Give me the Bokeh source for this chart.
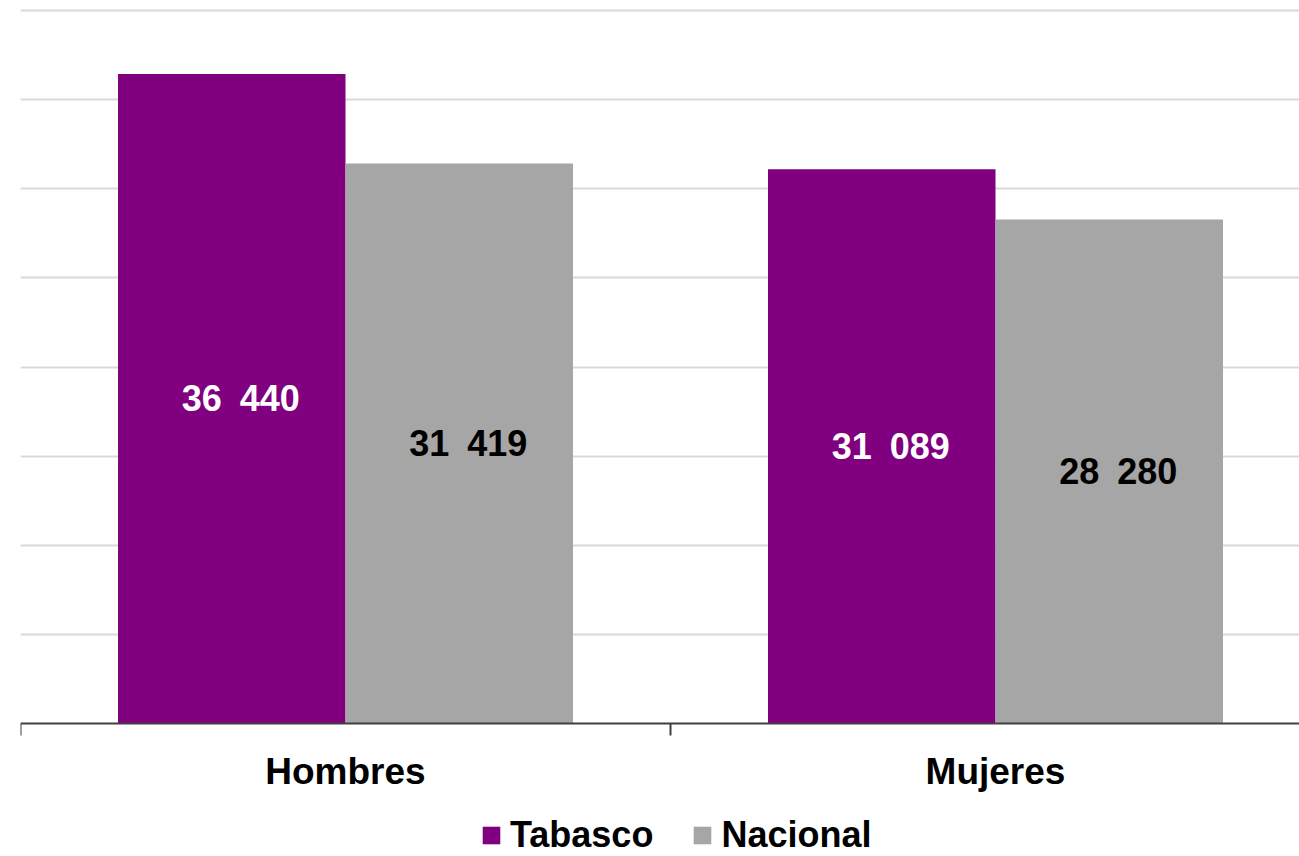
from bokeh.plotting import figure
from bokeh.models import (Range1d, FixedTicker, Grid, Legend,
                          LegendItem, ColumnDataSource, LinearAxis)
from bokeh.core.properties import value
from bokeh.embed import file_html
from bokeh.resources import INLINE

categories = ["Hombres", "Mujeres"]
series_names = ["Tabasco", "Nacional"]
tabasco = [36440, 31089]
nacional = [31419, 28280]
grid_values = [5000, 10000, 15000, 20000, 25000, 30000, 35000, 40000]
colors = ["#800080", "#A6A6A6"]
label_colors = ["white", "black"]

FONT = "Liberation Sans"
bar_w = 0.35
ymax = 40000
px_per_unit = 713 / ymax   # 40 000 spans 713 px

p = figure(width=1299, height=856, output_backend="svg", toolbar_location=None,
           x_range=Range1d(0, 1279 / 650),
           y_range=Range1d(-133 / px_per_unit, ymax + 10 / px_per_unit),
           x_axis_location=None, y_axis_location=None,
           min_border_left=20, min_border_right=0, min_border_top=0, min_border_bottom=0)
p.outline_line_color = None
p.background_fill_color = "white"
p.border_fill_color = "white"

for r in list(p.center):
    if isinstance(r, Grid):
        p.center.remove(r)

grid = Grid(dimension=1, ticker=FixedTicker(ticks=grid_values),
            grid_line_color="#D9D9D9", grid_line_width=2)
p.add_layout(grid)

centers = [i + 0.5 for i in range(len(categories))]
renderers = []
for k, (vals, col, lcol) in enumerate(zip([tabasco, nacional], colors, label_colors)):
    offset = (k - 0.5) * bar_w
    xs = [c + offset for c in centers]
    src = ColumnDataSource(dict(x=xs, top=vals, mid=[v / 2 for v in vals],
                                txt=[f"{v:,}".replace(",", "\u2002") for v in vals]))
    r = p.vbar(x="x", top="top", bottom=0, width=bar_w, source=src,
               fill_color=col, line_color=None)
    renderers.append(r)
    p.text(x="x", y="mid", text="txt", source=src, text_align="center",
           text_baseline="middle", text_color=lcol, text_font=value(FONT),
           text_font_style="bold", text_font_size="36px", x_offset=9)

xaxis = LinearAxis(
    fixed_location=0,
    ticker=FixedTicker(ticks=centers, minor_ticks=list(range(len(categories) + 1))),
    major_label_overrides={c: name for c, name in zip(centers, categories)},
    axis_line_color="#404040", axis_line_width=2,
    major_tick_line_color=None, major_tick_out=12, major_tick_in=0,
    minor_tick_line_color="#404040", minor_tick_line_width=2,
    minor_tick_out=12, minor_tick_in=0,
    major_label_standoff=15,
    major_label_text_font=FONT, major_label_text_font_style="bold",
    major_label_text_font_size="37px", major_label_text_color="black")
p.add_layout(xaxis, "below")

legend = Legend(items=[LegendItem(label=n, renderers=[r]) for n, r in zip(series_names, renderers)],
                orientation="horizontal", location=(460, 0),
                glyph_width=22, glyph_height=22, label_standoff=8, spacing=38,
                padding=0, margin=0, border_line_color=None, background_fill_alpha=0,
                label_text_font=FONT, label_text_font_style="bold",
                label_text_font_size="36px", label_text_color="black")
p.add_layout(legend, "center")

open("out.html", "w").write(file_html(p, INLINE))
